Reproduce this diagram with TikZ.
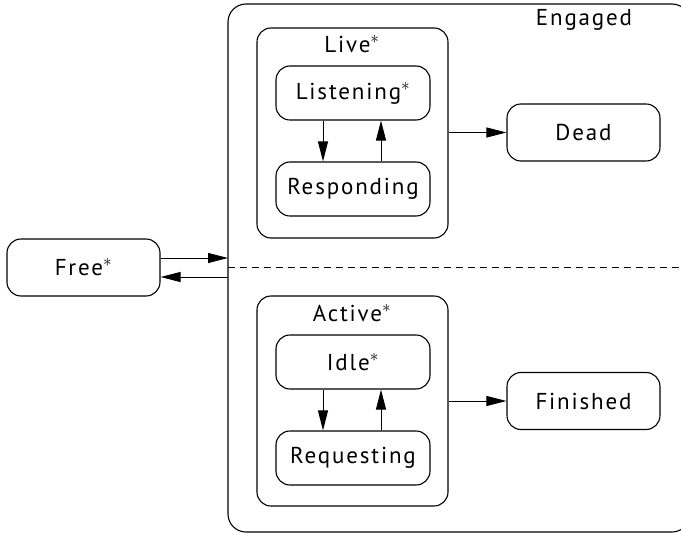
\documentclass[tikz,border=0pt]{standalone}
\usepackage{fontspec}
\setmainfont{PT Sans}[LetterSpace=8]
\usetikzlibrary{arrows.meta}
\begin{document}
\begin{tikzpicture}[x=1pt,y=-1pt,
  state/.style={draw,rounded corners=14pt,line width=1.1pt},
  lbl/.style={font=\fontsize{23}{27}\selectfont,inner sep=0pt},
  tr/.style={line width=1pt,-{Triangle[length=20pt,width=10pt]}}]
\useasboundingbox (0,0) rectangle (681,533);
% outer composite state
\draw[state,rounded corners=18pt] (228,4) rectangle (690,532);
\node[lbl] (eng) at (584,20) {Engaged};
\coordinate (dl) at (228,267);
\coordinate (dr) at (681,267);
\draw[line width=1pt,dash pattern=on 7pt off 5pt] (dl) -- (dr);
% free state
\node[state,minimum width=153pt,minimum height=57pt,lbl] (free) at (83.5,267.5) {Free$^{\scriptstyle *}$};
% live region
\node[state,minimum width=191pt,minimum height=210pt] (live) at (352.5,133) {};
\node[lbl] (livel) at (352,44) {Live$^{\scriptstyle *}$};
\node[state,minimum width=154pt,minimum height=54pt,lbl] (listen) at (353,93) {Listening$^{\scriptstyle *}$};
\node[state,minimum width=154pt,minimum height=54pt,lbl] (resp) at (353,189) {Responding};
\node[state,minimum width=153pt,minimum height=57pt,lbl] (dead) at (583.5,132.5) {Dead};
% active region
\node[state,minimum width=191pt,minimum height=210pt] (active) at (352.5,401) {};
\node[lbl] (activel) at (352,313) {Active$^{\scriptstyle *}$};
\node[state,minimum width=154pt,minimum height=54pt,lbl] (idle) at (353,362) {Idle$^{\scriptstyle *}$};
\node[state,minimum width=154pt,minimum height=54pt,lbl] (req) at (353,458) {Requesting};
\node[state,minimum width=153pt,minimum height=57pt,lbl] (fin) at (583.5,401) {Finished};
% transitions
\coordinate (ein) at (228,258);
\coordinate (eout) at (228,277);
\draw[tr] (free.east |- ein) -- (ein);
\draw[tr] (eout) -- (free.east |- eout);
\draw[tr] ([xshift=-30pt]listen.south) -- ([xshift=-30pt]resp.north);
\draw[tr] ([xshift=28pt]resp.north) -- ([xshift=28pt]listen.south);
\draw[tr] ([xshift=-30pt]idle.south) -- ([xshift=-30pt]req.north);
\draw[tr] ([xshift=28pt]req.north) -- ([xshift=28pt]idle.south);
\draw[tr] (live.east |- dead) -- (dead.west);
\draw[tr] (active.east |- fin) -- (fin.west);
\end{tikzpicture}
\end{document}
